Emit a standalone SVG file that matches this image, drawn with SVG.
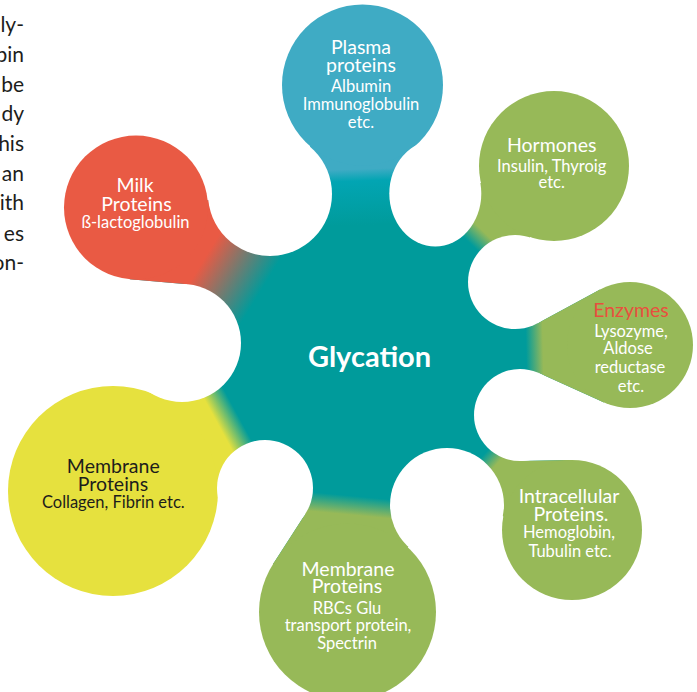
<svg xmlns="http://www.w3.org/2000/svg" width="697" height="692" viewBox="0 0 697 692">
<style>
.t{font-family:Lato,"Open Sans","Liberation Sans",sans-serif;text-anchor:middle;fill:#fff}
.h{font-size:19.5px}
.s{font-size:16.5px}
.k{fill:#1d1d1b}
.side{font-family:Lato,"Open Sans","Liberation Sans",sans-serif;font-size:21px;fill:#1d1d1b;text-anchor:end}
.gap{fill:#fff}
</style>
<defs>
<linearGradient id="gM" gradientUnits="userSpaceOnUse" x1="208.5" y1="251.9" x2="264" y2="285.8"><stop offset="0" stop-color="#e95a44"/><stop offset="1" stop-color="#009b9b"/></linearGradient>
<linearGradient id="gP" gradientUnits="userSpaceOnUse" x1="365.5" y1="168.9" x2="367.5" y2="224.9"><stop offset="0" stop-color="#3fabc4"/><stop offset="0.21" stop-color="#02a5b3"/><stop offset="1" stop-color="#009b9b"/></linearGradient>
<linearGradient id="gH" gradientUnits="userSpaceOnUse" x1="486.8" y1="234.6" x2="474.3" y2="247.5"><stop offset="0" stop-color="#97b958"/><stop offset="1" stop-color="#009b9b"/></linearGradient>
<linearGradient id="gE" gradientUnits="userSpaceOnUse" x1="543" y1="347.4" x2="526" y2="347.8"><stop offset="0" stop-color="#97b958"/><stop offset="1" stop-color="#009b9b"/></linearGradient>
<linearGradient id="gI" gradientUnits="userSpaceOnUse" x1="497.3" y1="463.5" x2="485.3" y2="452.9"><stop offset="0" stop-color="#97b958"/><stop offset="1" stop-color="#009b9b"/></linearGradient>
<linearGradient id="gR" gradientUnits="userSpaceOnUse" x1="356.6" y1="515.4" x2="358.4" y2="496.5"><stop offset="0" stop-color="#97b958"/><stop offset="1" stop-color="#009b9b"/></linearGradient>
<linearGradient id="gY" gradientUnits="userSpaceOnUse" x1="222.3" y1="432.4" x2="241.6" y2="421.9"><stop offset="0" stop-color="#e6e13e"/><stop offset="1" stop-color="#009b9b"/></linearGradient>
</defs>
<g id="side-text" class="side">
<text x="24" y="32">ly-</text>
<text x="24" y="62">bin</text>
<text x="24" y="92">be</text>
<text x="24" y="121">dy</text>
<text x="24" y="151">his</text>
<text x="24" y="181">an</text>
<text x="24" y="210">ith</text>
<text x="24" y="241">es</text>
<text x="24" y="270">on-</text>
</g>
<g id="connectors">
<polygon fill="#009b9b" points="136,207.5 270,194 362.5,85 435.3,193.5 554,166 515,282 537.3,323.4 600.1,289.5 630,345 604.1,402.4 538.9,373.1 520,415 520.9,461 570.6,460 572,530 447,505 347.5,612 273.1,564 305.3,514 265,488 113,491 182,343 187.1,284.2 129.8,279.2"/>
<polygon fill="url(#gM)" points="372,352 182,343 187.1,284.2 129.8,279.2 136,207.5 270,194"/>
<polygon fill="url(#gP)" points="372,352 270,194 362.5,85 435.3,193.5"/>
<polygon fill="url(#gH)" points="372,352 435.3,193.5 554,166 515,282"/>
<polygon fill="url(#gE)" points="372,352 515,282 537.3,323.4 600.1,289.5 630,345 604.1,402.4 538.9,373.1 520,415"/>
<polygon fill="url(#gI)" points="372,352 520,415 520.9,461 570.6,460 572,530 447,505"/>
<polygon fill="url(#gR)" points="372,352 447,505 347.5,612 273.1,564 305.3,514 265,488"/>
<polygon fill="url(#gY)" points="372,352 265,488 113,491 182,343"/>
</g>
<g id="node-milk"><circle cx="136" cy="207.5" r="72" fill="#e95a44"/></g>
<g id="node-plasma"><circle cx="362.5" cy="85" r="80.5" fill="#3fabc4"/></g>
<g id="node-hormones"><circle cx="554" cy="166" r="75" fill="#97b958"/></g>
<g id="node-enzymes"><circle cx="630" cy="345" r="63" fill="#97b958"/></g>
<g id="node-intracellular"><circle cx="572" cy="530" r="70" fill="#97b958"/></g>
<g id="node-membrane-rbc"><circle cx="347.5" cy="612" r="88.5" fill="#97b958"/></g>
<g id="node-membrane-collagen"><circle cx="113" cy="491" r="105" fill="#e6e13e"/></g>
<g id="gaps">
<circle class="gap" cx="270" cy="194" r="62"/>
<ellipse class="gap" cx="435.3" cy="193.5" rx="46" ry="53"/>
<circle class="gap" cx="515" cy="282" r="47"/>
<circle class="gap" cx="520" cy="415" r="46"/>
<circle class="gap" cx="447" cy="505" r="57"/>
<circle class="gap" cx="265" cy="488" r="48"/>
<circle class="gap" cx="182" cy="343" r="59"/>
</g>
<g id="labels">
<g id="label-center"><text class="t" x="369.5" y="366.7" style="font-size:29px;font-weight:700">Glycation</text></g>
<g id="label-milk" class="t"><text class="h" x="135" y="192.3">Milk</text><text class="h" x="136.5" y="210.7">Proteins</text><text class="s" x="135.5" y="228.3">ß-lactoglobulin</text></g>
<g id="label-plasma" class="t"><text class="h" x="361" y="54.3">Plasma</text><text class="h" x="361" y="71.7">proteins</text><text class="s" x="361" y="91.7">Albumin</text><text class="s" x="361" y="110">Immunoglobulin</text><text class="s" x="361" y="127.7">etc.</text></g>
<g id="label-hormones" class="t"><text class="h" x="551.7" y="151.7">Hormones</text><text class="s" x="551.7" y="171.7">Insulin, Thyroig</text><text class="s" x="551.7" y="188.3">etc.</text></g>
<g id="label-enzymes" class="t"><text class="h" x="631" y="316.7" style="fill:#e8503e">Enzymes</text><text class="s" x="631" y="337.3">Lysozyme,</text><text class="s" x="628" y="354">Aldose</text><text class="s" x="630" y="372.7">reductase</text><text class="s" x="631" y="391.7">etc.</text></g>
<g id="label-intracellular" class="t"><text class="h" x="569" y="503.3">Intracellular</text><text class="h" x="571" y="520.7">Proteins.</text><text class="s" x="569" y="538.3">Hemoglobin,</text><text class="s" x="570" y="557.3">Tubulin etc.</text></g>
<g id="label-membrane-rbc" class="t"><text class="h" x="348" y="576">Membrane</text><text class="h" x="347" y="593.3">Proteins</text><text class="s" x="347" y="614">RBCs Glu</text><text class="s" x="348" y="630.7">transport protein,</text><text class="s" x="347" y="649">Spectrin</text></g>
<g id="label-membrane-collagen" class="t k"><text class="h" x="113.3" y="473.3">Membrane</text><text class="h" x="113" y="491">Proteins</text><text class="s" x="113.3" y="508.3">Collagen, Fibrin etc.</text></g>
</g>
</svg>
